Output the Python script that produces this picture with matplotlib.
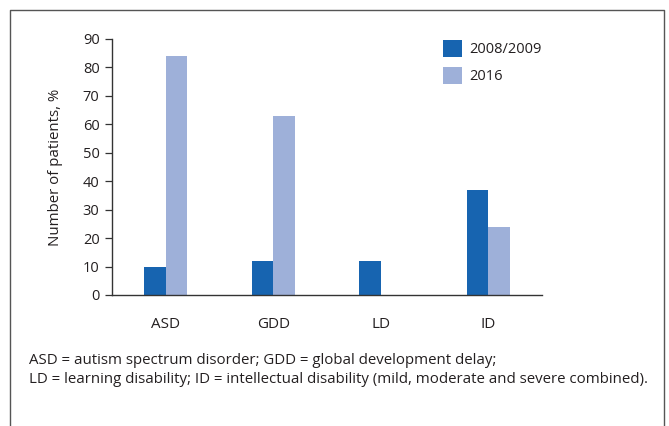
import numpy as np
import matplotlib.pyplot as plt
from matplotlib.lines import Line2D

categories = ["ASD", "GDD", "LD", "ID"]
y2008 = [10, 12, 12, 37]
y2016 = [84, 63, 0, 24]
series_labels = ["2008/2009", "2016"]
yticks = [0, 10, 20, 30, 40, 50, 60, 70, 80, 90]
footnote = ("ASD = autism spectrum disorder; GDD = global development delay;\n"
            "LD = learning disability; ID = intellectual disability (mild, moderate and severe combined).")

dark = "#1764b0"
light = "#9eb0d9"
txt = "#231f20"

plt.rcParams["font.family"] = ["Open Sans", "DejaVu Sans"]
plt.rcParams["font.size"] = 10
plt.rcParams["text.color"] = txt

W, H = 669, 426
fig = plt.figure(figsize=(W / 100, H / 100), dpi=100)
ax = fig.add_axes([112 / W, 1 - 295 / H, (542 - 112) / W, (295 - 39) / H])

x = np.arange(len(categories))
w = 0.2
ax.bar(x - w / 2, y2008, w, color=dark, label=series_labels[0])
ax.bar(x + w / 2, y2016, w, color=light, label=series_labels[1])

ax.set_xlim(-0.5, 3.5)
ax.set_ylim(0, 90)
ax.set_yticks(yticks)
ax.set_xticks(x)
ax.set_xticklabels(categories, fontsize=11)
ax.tick_params(axis="x", length=0, pad=16, labelcolor=txt)
ax.tick_params(axis="y", length=5, width=0.9, color="#333333", pad=4, labelcolor=txt, labelsize=10.5)
for s in ["top", "right"]:
    ax.spines[s].set_visible(False)
for s in ["left", "bottom"]:
    ax.spines[s].set_color("#333333")
    ax.spines[s].set_linewidth(1.0)
ax.set_ylabel("Number of patients, %", fontsize=10.8, labelpad=14, color=txt)

fig.legend(loc="upper left", bbox_to_anchor=(430 / W, 1 - 27 / H), frameon=False,
           handlelength=1.3, handleheight=1.4, labelspacing=0.65, handletextpad=0.5,
           fontsize=10.5)

fig.text(29 / W, 1 - 353 / H, footnote, fontsize=10.8, va="top", ha="left", linespacing=1.35)

# outer frame
fig.add_artist(Line2D([10 / W, 10 / W, 664 / W, 664 / W], [0, 1 - 10 / H, 1 - 10 / H, 0],
                      transform=fig.transFigure, color="#555555", lw=1.0))

fig.savefig("out.png", dpi=100)
